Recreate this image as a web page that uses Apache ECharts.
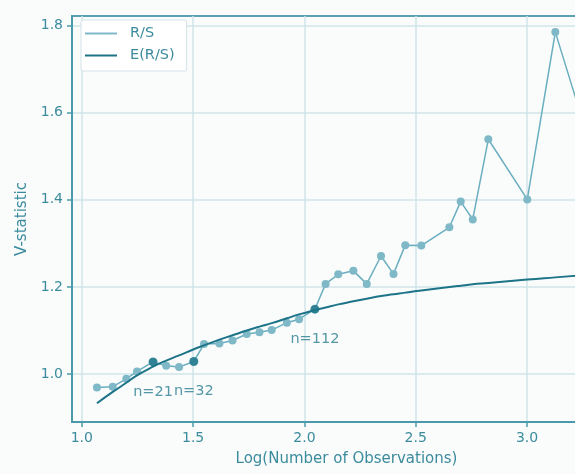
<!DOCTYPE html>
<html>
<head>
<meta charset="utf-8">
<script src="https://cdn.jsdelivr.net/npm/echarts@6/dist/echarts.min.js"></script>
<style>
html,body{margin:0;padding:0;background:#fafcfc;overflow:hidden;width:575px;height:474px;}
#c{width:621px;height:474px;}
</style>
</head>
<body>
<div id="c"></div>
<script>
// Data
const logN = [1.068,1.139,1.200,1.248,1.320,1.379,1.437,1.503,1.549,1.618,1.677,1.741,1.798,1.853,1.921,1.976,2.047,2.095,2.152,2.220,2.280,2.344,2.400,2.453,2.525,2.651,2.702,2.756,2.826,3.001,3.127,3.305];
const rsValues = [0.969,0.971,0.989,1.006,1.028,1.019,1.016,1.029,1.069,1.070,1.077,1.092,1.096,1.101,1.118,1.126,1.149,1.207,1.229,1.237,1.207,1.271,1.230,1.296,1.295,1.337,1.396,1.355,1.539,1.401,1.785,1.490];
const eValues = [0.933,0.959,0.980,0.997,1.017,1.031,1.043,1.057,1.066,1.079,1.089,1.100,1.109,1.117,1.128,1.137,1.147,1.153,1.160,1.167,1.173,1.179,1.183,1.187,1.192,1.200,1.203,1.206,1.209,1.217,1.222,1.229];
const markedIdx = [4, 7, 16];
const markedLabels = ['n=21', 'n=32', 'n=112'];
const xTicks = [1.0, 1.5, 2.0, 2.5, 3.0, 3.5];
const yTicks = [1.0, 1.2, 1.4, 1.6, 1.8];

const light = '#6aaebf';
const lightMarker = '#7fb8c6';
const dark = '#1d7488';
const axisCol = '#4b9aab';
const gridCol = '#cfe4e9';
const textCol = '#3b8b9d';
const font = 'DejaVu Sans';

const rsData = logN.map((x, i) => [x, rsValues[i]]);
const eData = logN.map((x, i) => [x, eValues[i]]);
const markedData = markedIdx.map((k, j) => ({value: [logN[k], rsValues[k]], label: {formatter: markedLabels[j]}}));

const chart = echarts.init(document.getElementById('c'), null, {renderer: 'canvas'});
chart.setOption({
  animation: false,
  backgroundColor: '#fafcfc',
  grid: {
    left: 72, right: 0, top: 16, bottom: 52,
    show: true, borderColor: '#5aa2b3', borderWidth: 2, backgroundColor: 'transparent'
  },
  legend: {
    left: 81, top: 20, orient: 'vertical',
    data: [{name: 'R/S'}, {name: 'E(R/S)'}],
    icon: 'rect', itemWidth: 32, itemHeight: 2, itemGap: 7,
    backgroundColor: '#ffffff', borderColor: '#d3e3e7', borderWidth: 1, borderRadius: 2,
    padding: [6, 12, 8, 4],
    textStyle: {color: textCol, fontFamily: font, fontSize: 14.5, padding: [0, 0, 0, 8]}
  },
  xAxis: {
    type: 'value', min: 0.956, max: 3.422,
    name: 'Log(Number of Observations)', nameLocation: 'middle', nameGap: 30,
    nameTextStyle: {color: textCol, fontFamily: font, fontSize: 15},
    axisLine: {show: true, lineStyle: {color: axisCol, width: 2}},
    axisTick: {show: true, customValues: xTicks, length: 5, lineStyle: {color: axisCol, width: 1.5}},
    axisLabel: {customValues: xTicks, color: textCol, fontFamily: font, fontSize: 14, margin: 9, formatter: v => v.toFixed(1)},
    splitLine: {show: true, lineStyle: {color: gridCol, width: 1.5}}
  },
  yAxis: {
    type: 'value', min: 0.890, max: 1.822,
    name: 'V-statistic', nameLocation: 'middle', nameGap: 42, nameRotate: 90,
    nameTextStyle: {color: textCol, fontFamily: font, fontSize: 15},
    axisLine: {show: true, lineStyle: {color: axisCol, width: 2}},
    axisTick: {show: true, customValues: yTicks, length: 5, lineStyle: {color: axisCol, width: 1.5}},
    axisLabel: {customValues: yTicks, color: textCol, fontFamily: font, fontSize: 14, margin: 9, formatter: v => v.toFixed(1)},
    splitLine: {show: true, lineStyle: {color: gridCol, width: 1.5}}
  },
  series: [
    {
      name: 'R/S', type: 'line', data: rsData,
      symbol: 'circle', symbolSize: 8, showSymbol: true,
      lineStyle: {color: light, width: 1.5},
      itemStyle: {color: lightMarker, borderWidth: 0},
      z: 2
    },
    {
      name: 'E(R/S)', type: 'line', data: eData, smooth: true,
      symbol: 'none',
      lineStyle: {color: dark, width: 2},
      itemStyle: {color: dark},
      z: 3
    },
    {
      name: 'marked', type: 'scatter', data: markedData,
      symbol: 'circle', symbolSize: 9,
      itemStyle: {color: dark},
      label: {show: true, position: 'bottom', distance: 18, color: '#2a7d90', fontFamily: font, fontSize: 14.5},
      z: 4
    }
  ]
});
</script>
</body>
</html>
